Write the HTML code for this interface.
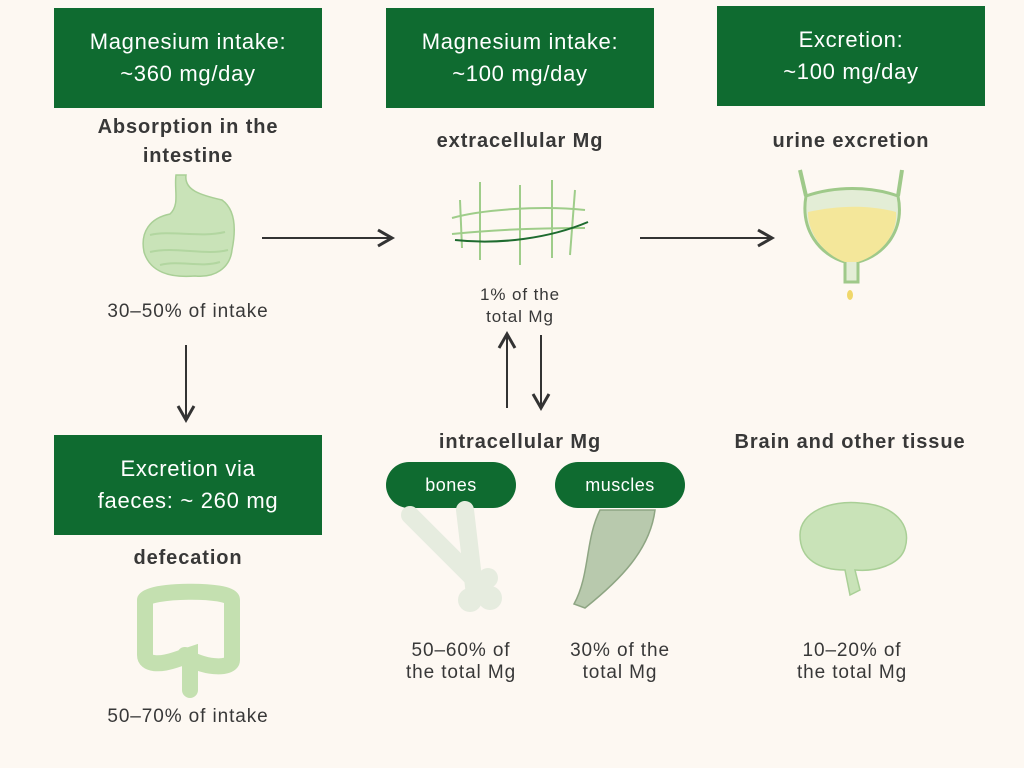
<!DOCTYPE html>
<html><head><meta charset="utf-8"><style>
body{margin:0;width:1024px;height:768px;background:#fdf8f2;position:relative;overflow:hidden;font-family:"Liberation Sans",sans-serif;color:#333}
.box{position:absolute;background:#0f6b30;color:#fff;font-size:22px;letter-spacing:0.7px;text-align:center;line-height:32px;display:flex;align-items:center;justify-content:center;width:268px;height:100px}
.pill{position:absolute;background:#0f6b30;color:#fff;font-size:18px;letter-spacing:0.5px;border-radius:23px;height:46px;width:130px;display:flex;align-items:center;justify-content:center}
.b{position:absolute;font-weight:bold;font-size:20px;letter-spacing:0.9px;text-align:center;line-height:29px;color:#383838}
.t{position:absolute;font-size:19px;letter-spacing:0.9px;text-align:center;line-height:22px;color:#383838}
svg{position:absolute;left:0;top:0}
</style></head><body>
<div class="box" style="left:54px;top:8px">Magnesium intake:<br>~360 mg/day</div>
<div class="box" style="left:386px;top:8px">Magnesium intake:<br>~100 mg/day</div>
<div class="box" style="left:717px;top:6px">Excretion:<br>~100 mg/day</div>
<div class="box" style="left:54px;top:435px">Excretion via<br>faeces: ~ 260 mg</div>
<div class="pill" style="left:386px;top:462px">bones</div>
<div class="pill" style="left:555px;top:462px">muscles</div>
<div class="b" style="left:40px;width:296px;top:113px">Absorption in the<br>intestine</div>
<div class="b" style="left:386px;width:268px;top:127px">extracellular Mg</div>
<div class="b" style="left:717px;width:268px;top:127px">urine excretion</div>
<div class="b" style="left:386px;width:268px;top:428px">intracellular Mg</div>
<div class="b" style="left:690px;width:320px;top:428px">Brain and other tissue</div>
<div class="b" style="left:54px;width:268px;top:544px">defecation</div>
<div class="t" style="left:40px;width:296px;top:301px">30–50% of intake</div>
<div class="t" style="left:40px;width:296px;top:706px">50–70% of intake</div>
<div class="t" style="left:420px;width:200px;top:284px;font-size:17px">1% of the<br>total Mg</div>
<div class="t" style="left:361px;width:200px;top:640px">50–60% of<br>the total Mg</div>
<div class="t" style="left:520px;width:200px;top:640px">30% of the<br>total Mg</div>
<div class="t" style="left:752px;width:200px;top:640px">10–20% of<br>the total Mg</div>
<svg width="1024" height="768">
<defs><marker id="a" markerWidth="10" markerHeight="10" refX="8" refY="5" orient="auto"><path d="M1,1 L8,5 L1,9" fill="none" stroke="#333" stroke-width="1.5"/></marker></defs>
<g stroke="#333" stroke-width="2" fill="none" marker-end="url(#a)">
<line x1="262" y1="238" x2="392" y2="238"/>
<line x1="640" y1="238" x2="772" y2="238"/>
<line x1="186" y1="345" x2="186" y2="420"/>
<line x1="507" y1="408" x2="507" y2="334"/>
<line x1="541" y1="335" x2="541" y2="408"/>
</g>
<g fill="#c9e3b8" stroke="#a9cf96" stroke-width="1.5">
<path d="M176,175 L186,175 C184,190 200,195 222,200 C236,210 236,230 232,250 C230,268 215,278 195,276 C170,278 150,272 144,252 C140,232 150,218 170,214 C180,205 174,190 176,175Z"/>
</g>
<g fill="none" stroke="#b2d6a0" stroke-width="2"><path d="M150,235 C170,230 200,238 225,232 M150,252 C175,246 205,256 228,250 M160,265 C180,260 200,268 220,262"/></g>
<g stroke="#9fcd8a" stroke-width="2" fill="none">
<path d="M452,218 C480,210 540,205 585,210 M452,234 C490,230 540,228 585,228"/>
<path d="M480,182 L480,260 M520,185 L520,265 M552,180 L552,258 M575,190 L570,255 M460,200 L462,248"/>
</g>
<path d="M455,240 C500,245 550,238 588,222" stroke="#1e6b2f" stroke-width="2" fill="none"/>
<path d="M806,196 C800,230 820,255 845,262 L845,282 L858,282 L858,262 C885,255 905,230 898,196 C870,186 835,186 806,196Z" fill="#e3edd6" stroke="#9fc98a" stroke-width="3"/>
<path d="M808,212 C840,205 870,205 896,212 C898,235 880,255 858,262 L845,262 C825,255 808,235 808,212Z" fill="#f4e79a"/>
<path d="M806,196 L800,170 M898,196 L902,170" stroke="#9fc98a" stroke-width="4"/>
<ellipse cx="850" cy="295" rx="3" ry="5" fill="#f0d76a"/>
<path d="M145,600 L145,655 C145,665 160,665 175,660 L190,655 L190,690 M145,600 C145,590 232,588 232,600 L232,660 C232,670 200,668 185,655" fill="none" stroke="#c4e0b0" stroke-width="16" stroke-linecap="round"/>
<g stroke="#e6ecdf" stroke-width="18" stroke-linecap="round" fill="none"><line x1="410" y1="515" x2="485" y2="590"/><line x1="465" y1="510" x2="475" y2="595"/></g>
<g fill="#e6ecdf"><circle cx="470" cy="600" r="12"/><circle cx="490" cy="598" r="12"/><circle cx="488" cy="578" r="10"/></g>
<path d="M600,510 L655,510 C650,550 620,580 585,608 L574,604 C590,575 585,540 600,510Z" fill="#b8c9ad" stroke="#8ea583" stroke-width="1.5"/>
<path d="M800,535 C800,512 830,500 860,503 C895,505 912,525 905,548 C900,565 875,572 855,570 L860,590 L850,595 L845,570 C820,570 800,560 800,535Z" fill="#c9e3b8" stroke="#a9cf96" stroke-width="1.5"/>
</svg>
</body></html>
